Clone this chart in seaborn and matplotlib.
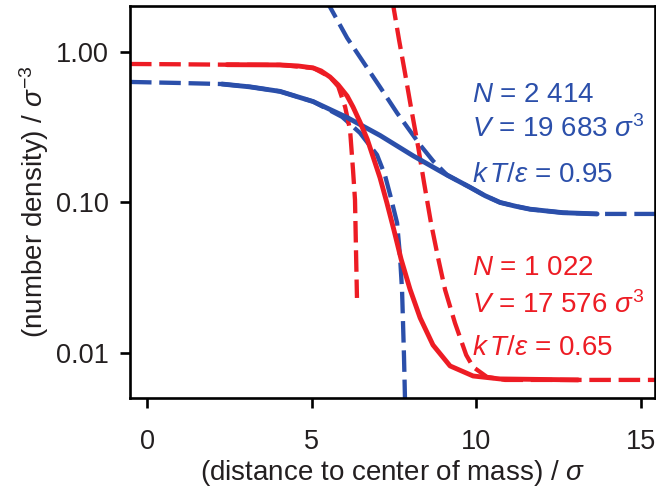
import matplotlib
matplotlib.use("Agg")
import matplotlib.pyplot as plt
import pandas as pd
import seaborn as sns
from matplotlib.ticker import FixedLocator, FixedFormatter, NullLocator

sns.set_theme(style="ticks")
plt.rcParams["font.family"] = ["Liberation Sans", "DejaVu Sans"]
plt.rcParams["mathtext.fontset"] = "custom"
plt.rcParams["mathtext.rm"] = "Liberation Sans"
plt.rcParams["mathtext.it"] = "Liberation Sans:italic"
plt.rcParams["mathtext.bf"] = "Liberation Sans:bold"

BLUE = "#2B4FAA"
RED = "#ED1C24"
INK = "#231F20"

# Simulated density profiles (solid)
blue_sim_x = [2.28, 3.13, 4.04, 5.05, 6.08, 7.08, 8.09, 9.12, 9.82, 10.27, 10.73, 11.2, 11.64, 12.64, 13.68]
blue_sim_y = [0.612, 0.586, 0.547, 0.468, 0.367, 0.279, 0.204, 0.152, 0.126, 0.111, 0.100, 0.0944, 0.0902, 0.0855, 0.0839]

red_sim_x = [2.43, 4.04, 4.59, 5.05, 5.29, 5.56, 5.81, 6.08, 6.26, 6.47, 6.69, 6.87, 7.08, 7.29,
             7.51, 7.72, 7.99, 8.30, 8.69, 9.21, 9.91, 10.73, 13.10]
red_sim_y = [0.823, 0.820, 0.807, 0.783, 0.748, 0.682, 0.604, 0.510, 0.431, 0.343, 0.264, 0.201, 0.146, 0.0993,
             0.0647, 0.0421, 0.0266, 0.0171, 0.0113, 0.0082, 0.00703, 0.00672, 0.00662]

# Liquid-side asymptotes (dashed)
blue_liq_x = [-0.52, 1.0, 2.28, 3.13, 4.04, 5.05, 5.93, 6.47, 6.99, 7.23, 7.39, 7.60, 7.69, 7.75, 7.78, 7.81, 7.84]
blue_liq_y = [0.632, 0.622, 0.612, 0.586, 0.547, 0.468, 0.370, 0.290, 0.207, 0.152, 0.112, 0.0731, 0.0434,
              0.0262, 0.0158, 0.0094, 0.0049]

red_liq_x = [-0.52, 1.0, 2.43, 4.04, 5.05, 5.56, 5.81, 6.02, 6.17, 6.26, 6.32, 6.35, 6.38]
red_liq_y = [0.832, 0.828, 0.823, 0.820, 0.783, 0.682, 0.590, 0.431, 0.303, 0.164, 0.104, 0.0484, 0.0232]

# Vapour-side asymptotes (dashed)
blue_vap_x = [5.26, 5.56, 6.08, 6.63, 7.08, 7.60, 8.30, 8.70, 9.12, 9.82, 10.27, 10.73, 11.2, 11.64, 12.64, 13.68, 15.5]
blue_vap_y = [2.5, 1.99, 1.24, 0.820, 0.585, 0.393, 0.241, 0.188, 0.152, 0.126, 0.111, 0.100, 0.0944, 0.0902,
              0.0855, 0.0839, 0.0839]

red_vap_x = [7.42, 7.48, 7.66, 7.84, 8.02, 8.24, 8.42, 8.63, 8.84, 9.06, 9.36, 9.70, 9.91, 10.33, 10.88, 15.5]
red_vap_y = [2.39, 2.05, 1.20, 0.725, 0.431, 0.234, 0.135, 0.0731, 0.0434, 0.0262, 0.0158, 0.0097, 0.00807,
             0.00693, 0.00662, 0.00662]

x_ticks = [0, 5, 10, 15]
x_tick_labels = ["0", "5", "10", "15"]
y_ticks = [0.01, 0.1, 1.0]
y_tick_labels = ["0.01", "0.10", "1.00"]

blue_lines = ["$N$ = 2 414", "$V$ = 19 683 $\\sigma^3$", "$k\\,T/\\varepsilon$ = 0.95"]
red_lines = ["$N$ = 1 022", "$V$ = 17 576 $\\sigma^3$", "$k\\,T/\\varepsilon$ = 0.65"]

fig = plt.figure(figsize=(6.56, 4.94), dpi=100)
ax = fig.add_axes([130 / 656, 1 - 398 / 494, 525 / 656, 392 / 494])

dash = (0, (5.0, 1.8))
for xs, ys, c in [(blue_liq_x, blue_liq_y, BLUE), (red_liq_x, red_liq_y, RED),
                  (blue_vap_x, blue_vap_y, BLUE), (red_vap_x, red_vap_y, RED)]:
    df = pd.DataFrame({"x": xs, "y": ys})
    sns.lineplot(data=df, x="x", y="y", ax=ax, color=c, lw=3.1, linestyle=dash,
                 sort=False, estimator=None)

for xs, ys, c in [(blue_sim_x, blue_sim_y, BLUE), (red_sim_x, red_sim_y, RED)]:
    df = pd.DataFrame({"x": xs, "y": ys})
    sns.lineplot(data=df, x="x", y="y", ax=ax, color=c, lw=3.5, sort=False,
                 estimator=None, solid_capstyle="round", solid_joinstyle="round")

ax.set_yscale("log")
ax.set_xlim(-0.52, 15.44)
ax.set_ylim(0.00502, 2.02)

ax.xaxis.set_major_locator(FixedLocator(x_ticks))
ax.xaxis.set_major_formatter(FixedFormatter(x_tick_labels))
ax.yaxis.set_major_locator(FixedLocator(y_ticks))
ax.yaxis.set_major_formatter(FixedFormatter(y_tick_labels))
ax.yaxis.set_minor_locator(NullLocator())
ax.xaxis.set_minor_locator(NullLocator())

for s in ax.spines.values():
    s.set_visible(True)
    s.set_linewidth(1.9)
    s.set_color("black")

ax.tick_params(axis="both", direction="out", length=7.5, width=1.9, color="black",
               labelsize=19.5, labelcolor=INK)
ax.tick_params(axis="x", pad=15)
ax.tick_params(axis="y", pad=8)

ax.set_xlabel("(distance to center of mass) / $\\sigma$", fontsize=20, color=INK)
ax.set_ylabel("(number density) / $\\sigma^{-3}$", fontsize=20, color=INK)
ax.xaxis.set_label_coords(0.5, -0.153)
ax.yaxis.set_label_coords(-0.15, 0.5)

text_x = 9.88
for txt, yb in zip(blue_lines, [0.465, 0.272, 0.137]):
    ax.text(text_x, yb, txt, color=BLUE, fontsize=20, va="baseline", ha="left")
for txt, yb in zip(red_lines, [0.0330, 0.01845, 0.0097]):
    ax.text(text_x, yb, txt, color=RED, fontsize=20, va="baseline", ha="left")

fig.savefig("out.png", dpi=100)
